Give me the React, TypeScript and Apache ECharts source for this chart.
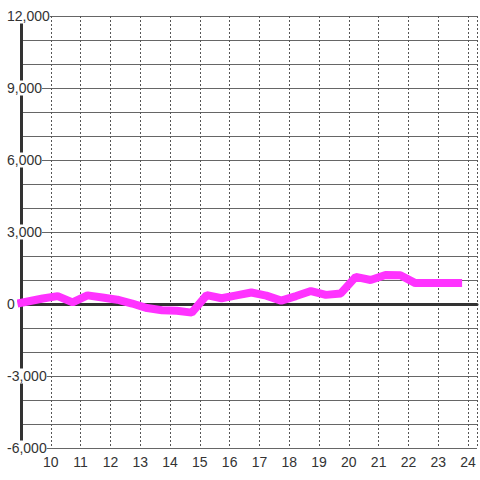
import React, { useEffect, useRef } from "react";
import * as echarts from "echarts";

const hours = [8.88, 9.73, 10.23, 10.73, 11.23, 11.73, 12.23, 12.73, 13.23, 13.73, 14.23, 14.73, 15.23, 15.73, 16.23, 16.73, 17.23, 17.73, 18.23, 18.73, 19.23, 19.73, 20.23, 20.73, 21.23, 21.73, 22.23, 22.73, 23.23, 23.8];
const values = [20, 230, 330, 70, 360, 270, 180, 20, -170, -260, -280, -360, 370, 240, 360, 480, 350, 140, 330, 540, 380, 440, 1130, 1000, 1210, 1200, 870, 870, 870, 870];

const yMin = -6000;
const yMax = 12000;
const yStep = 3000;
const xMin = 9;
const xMax = 24.3;
const xFirstLabel = 10;
const xLastLabel = 24;

export default function App() {
  const ref = useRef<HTMLDivElement>(null);
  useEffect(() => {
    if (!ref.current) return;
    const chart = echarts.init(ref.current, null, { renderer: "svg" });
    const points = hours.map((h, i) => [h, values[i]]);
    chart.setOption({
      animation: false,
      backgroundColor: "#ffffff",
      grid: { left: 21, right: 0, top: 16, bottom: 32, containLabel: false },
      xAxis: [
        {
          type: "value",
          min: xMin,
          max: xMax,
          interval: 1,
          position: "bottom",
          axisLine: { show: false, onZero: false },
          axisTick: { show: false },
          axisLabel: {
            margin: 7,
            fontSize: 14,
            color: "#333",
            fontFamily: "Liberation Sans, Arial, sans-serif",
            formatter: (v: number) =>
              Number.isInteger(v) && v >= xFirstLabel && v <= xLastLabel ? String(v) : "",
          },
          splitLine: { show: true, lineStyle: { color: "#555", width: 1, type: [2, 2] } },
        },
        {
          type: "value",
          min: xMin,
          max: xMax,
          position: "top",
          axisLine: { show: true, onZero: true, lineStyle: { color: "#333", width: 3 } },
          axisTick: { show: false },
          axisLabel: { show: false },
          splitLine: { show: false },
        },
      ],
      yAxis: {
        type: "value",
        min: yMin,
        max: yMax,
        interval: yStep,
        axisLine: { show: true, onZero: false, lineStyle: { color: "#333", width: 3 } },
        axisTick: { show: false },
        axisLabel: {
          align: "left",
          margin: 14,
          fontSize: 14,
          lineHeight: 15,
          color: "#333",
          backgroundColor: "#ffffff",
          fontFamily: "Liberation Sans, Arial, sans-serif",
          formatter: (v: number) => v.toLocaleString("en-US"),
        },
        splitLine: { show: true, lineStyle: { color: "#666", width: 1 } },
        minorTick: { show: false, splitNumber: 3 },
        minorSplitLine: { show: true, lineStyle: { color: "#666", width: 1 } },
      },
      series: [
        {
          type: "line",
          data: points,
          showSymbol: false,
          symbol: "none",
          clip: false,
          lineStyle: { color: "#ff33ff", width: 8 },
          z: 5,
        },
      ],
    });
    return () => chart.dispose();
  }, []);
  return (
    <div
      ref={ref}
      style={{ position: "fixed", left: 0, top: 0, width: 480, height: 480 }}
    />
  );
}
